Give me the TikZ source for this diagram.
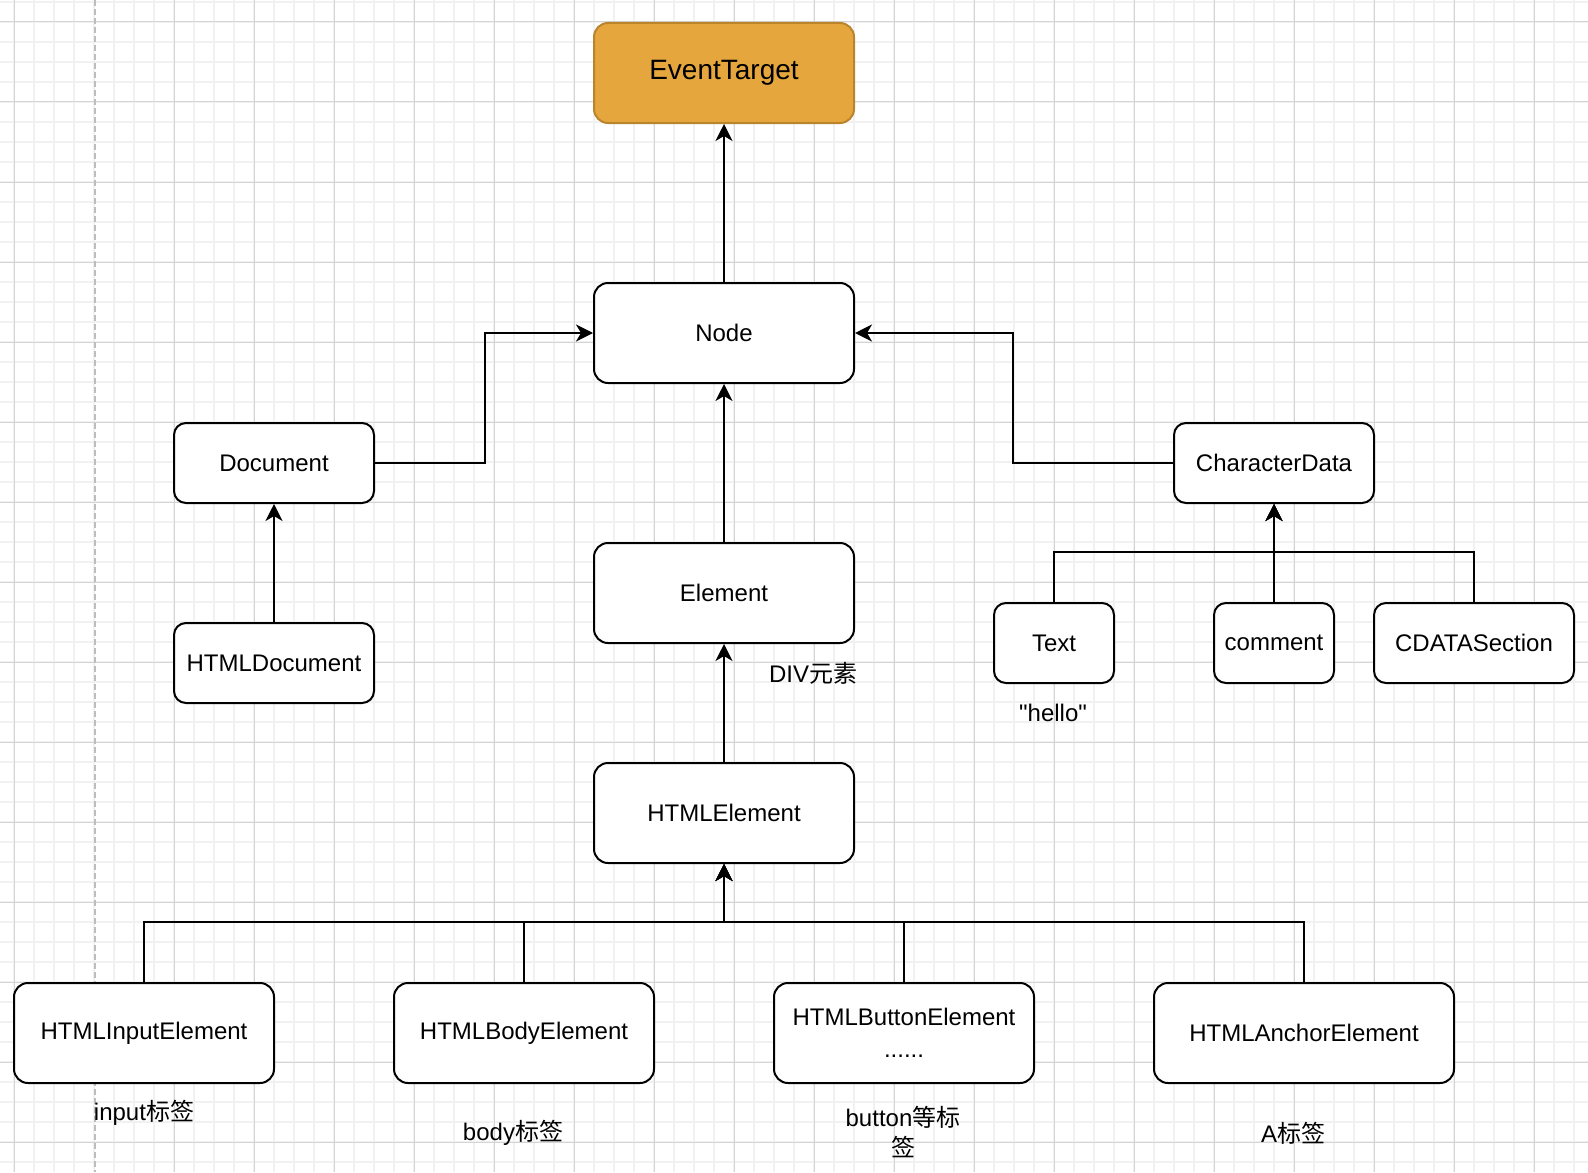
\documentclass[tikz,border=0pt]{standalone}
\usepackage{fontspec}
\setmainfont{Liberation Sans}
\newfontfamily\plainsans[Ligatures=ResetAll]{Liberation Sans}
\newfontfamily\cjk{Noto Sans CJK SC}
\usetikzlibrary{arrows.meta,positioning}
\definecolor{gridmajor}{HTML}{D4D4D4}
\definecolor{gridminor}{HTML}{F1F1F1}
\definecolor{pagebreak}{HTML}{BDBDBD}
\definecolor{orange400}{HTML}{E5A73D}
\definecolor{orange700}{HTML}{BA842C}

\begin{document}
\begin{tikzpicture}[x=0.5pt, y=-0.5pt]
  % Styles
  \tikzset{
    box/.style={draw, line width=1pt, rounded corners=7pt, align=center, fill=white, inner sep=0pt,
      minimum width=130pt, minimum height=50pt, font=\fontsize{12}{16}\selectfont},
    smallbox/.style={box, rounded corners=6pt, minimum width=100pt, minimum height=40pt},
    tinybox/.style={smallbox, minimum width=60pt},
    rootbox/.style={box, fill=orange400, draw=orange700, font=\fontsize{14}{17}\selectfont},
    note/.style={align=center, inner sep=0pt, font=\fontsize{12}{15}\selectfont},
    link/.style={-{Stealth[length=8.5pt, width=8.5pt, inset=2.5pt]}, line width=1pt},
  }

  % Canvas and grid
  \useasboundingbox (0,0) rectangle (1588,1172);
  \fill[white] (0,0) rectangle (1588,1172);
  \begin{scope}
    \clip (0,0) rectangle (1588,1172);
    \foreach \x in {14,34,...,1594} \draw[gridminor, line width=0.75pt] (\x,0) -- (\x,1172);
    \foreach \y in {2,22,...,1182} \draw[gridminor, line width=0.75pt] (0,\y) -- (1588,\y);
    \foreach \x in {14,174,254,...,1574} \draw[gridmajor, line width=0.5pt] (\x,0) -- (\x,1172);
    \foreach \y in {22,102,...,1182} \draw[gridmajor, line width=0.5pt] (0,\y) -- (1588,\y);
    \draw[pagebreak, line width=0.75pt, dash pattern=on 3pt off 1.5pt] (95,0) -- (95,1172);
  \end{scope}

  % Core chain
  \node[rootbox] (eventtarget) at (724,73)  {EventTarget};
  \node[box]     (node)        at (724,333) {Node};
  \node[box]     (element)     at (724,593) {Element};
  \node[box]     (htmlelement) at (724,813) {HTMLElement};

  % Document branch
  \node[smallbox] (document)     at (274,463) {Document};
  \node[smallbox] (htmldocument) at (274,663) {HTMLDocument};

  % Character data branch
  \node[smallbox] (chardata) at (1274,463) {CharacterData};
  \node[tinybox]  (text)     at (1054,643) {Text};
  \node[tinybox]  (comment)  at (1274,643) {comment};
  \node[smallbox] (cdata)    at (1474,643) {CDATASection};

  % HTML elements row
  \node[box] (inputel)  at (144,1033)  {HTMLInputElement};
  \node[box] (bodyel)   at (524,1033)  {HTMLBodyElement};
  \node[box] (buttonel) at (904,1033)  {HTMLButtonElement\\......};
  \node[box, minimum width=150pt] (anchorel) at (1304,1033) {HTMLAnchorElement};

  % Notes
  \node[note] (divnote)    at (813,673)  {DIV{\cjk 元素}};
  \node[note] (hellonote)  at (1053,713) {{\plainsans "hello"}};
  \node[note] (inputnote)  at (144,1113) {input{\cjk 标签}};
  \node[note] (bodynote)   at (513,1133) {body{\cjk 标签}};
  \node[note] (buttonnote) at (903,1132) {button{\cjk 等标}\\{\cjk 签}};
  \node[note] (anote)      at (1293,1133) {A{\cjk 标签}};

  % Links
  \draw[link] (node) -- (eventtarget);
  \draw[link] (element) -- (node);
  \draw[link] (htmlelement) -- (element);
  \draw[link] (htmldocument) -- (document);
  \draw[link] (document.east) -- ++(110,0) |- (node.west);
  \draw[link] (chardata.west) -- ++(-160,0) |- (node.east);
  \draw[link] (text.north) -- ++(0,-50) -| (chardata.south);
  \draw[link] (comment) -- (chardata);
  \draw[link] (cdata.north) -- ++(0,-50) -| (chardata.south);
  \draw[link] (inputel.north) -- ++(0,-60) -| (htmlelement.south);
  \draw[link] (bodyel.north) -- ++(0,-60) -| (htmlelement.south);
  \draw[link] (buttonel.north) -- ++(0,-60) -| (htmlelement.south);
  \draw[link] (anchorel.north) -- ++(0,-60) -| (htmlelement.south);
\end{tikzpicture}
\end{document}
